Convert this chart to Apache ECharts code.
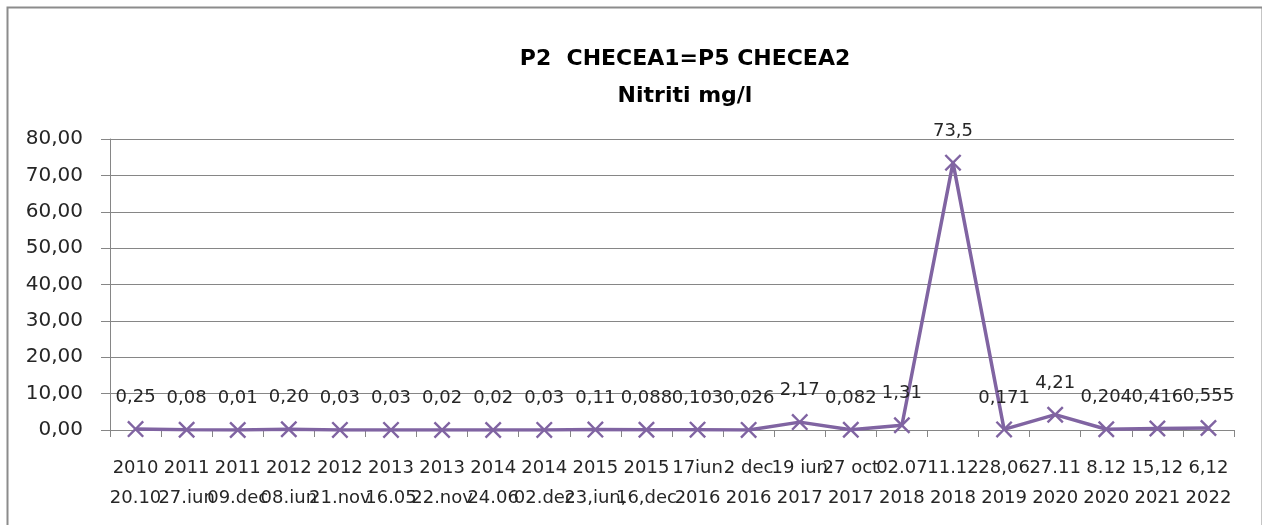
<!DOCTYPE html>
<html>
<head>
<meta charset="utf-8">
<script src="https://cdn.jsdelivr.net/npm/echarts@6/dist/echarts.min.js"></script>
<style>
html,body{margin:0;padding:0;background:#fff;}
#c{width:1262px;height:525px;}
</style>
</head>
<body>
<div id="c"></div>
<script>
const categories = [
  "2010\n20.10","2011\n27.iun","2011\n09.dec","2012\n08.iun","2012\n21.nov",
  "2013\n16.05","2013\n22.nov","2014\n24.06","2014\n02.dec","2015\n23,iun,",
  "2015\n16,dec","17iun\n2016","2 dec\n2016","19 iun\n2017","27 oct\n2017",
  "02.07\n2018","11.12\n2018","28,06\n2019","27.11\n2020","8.12\n2020",
  "15,12\n2021","6,12\n2022"
];
const values = [0.25,0.08,0.01,0.20,0.03,0.03,0.02,0.02,0.03,0.11,0.088,0.103,0.026,2.17,0.082,1.31,73.5,0.171,4.21,0.204,0.416,0.555];
const valueLabels = ["0,25","0,08","0,01","0,20","0,03","0,03","0,02","0,02","0,03","0,11","0,088","0,103","0,026","2,17","0,082","1,31","73,5","0,171","4,21","0,204","0,416","0,555"];
const titleLines = ["P2  CHECEA1=P5 CHECEA2","Nitriti mg/l"];

const FONT = "'DejaVu Sans', sans-serif";
const chart = echarts.init(document.getElementById('c'), null, {renderer:'canvas'});
const xPath = 'path://M0,2 L2,0 L10,8 L18,0 L20,2 L12,10 L20,18 L18,20 L10,12 L2,20 L0,18 L8,10 Z';

chart.setOption({
  animation:false,
  backgroundColor:'#fff',
  graphic:[{
    type:'rect', left:5, top:5,
    shape:{width:1255, height:530},
    style:{fill:'none', stroke:'#8c8c8c', lineWidth:2}
  }],
  title:{
    text: titleLines.join('\n'),
    left: 680, top: 36, textAlign:'center',
    textStyle:{fontFamily:FONT, fontSize:22, fontWeight:'bold', color:'#000', lineHeight:37}
  },
  grid:{left:110, right:28, top:139, bottom:95},
  xAxis:{
    type:'category', data:categories, boundaryGap:true,
    axisLine:{lineStyle:{color:'#868686', width:1}},
    axisTick:{show:true, length:7, inside:false, alignWithLabel:false, lineStyle:{color:'#868686'}},
    axisLabel:{interval:0, margin:23, fontFamily:FONT, fontSize:18, color:'#262626', lineHeight:30}
  },
  yAxis:{
    type:'value', min:0, max:80, interval:10,
    axisLine:{show:true, lineStyle:{color:'#868686'}},
    axisTick:{show:true, length:9, lineStyle:{color:'#868686'}},
    splitLine:{lineStyle:{color:'#868686', width:1}},
    axisLabel:{margin:27, fontFamily:FONT, fontSize:20, color:'#262626',
      formatter: v => v.toFixed(2).replace('.', ',')}
  },
  series:[{
    type:'line', data:values,
    symbol:xPath, symbolSize:17,
    lineStyle:{color:'#8064A2', width:3.5},
    itemStyle:{color:'#8064A2'},
    label:{show:true, position:'top', distance:14, fontFamily:FONT, fontSize:18, color:'#262626',
      formatter: p => valueLabels[p.dataIndex]}
  }]
});
</script>
</body>
</html>
